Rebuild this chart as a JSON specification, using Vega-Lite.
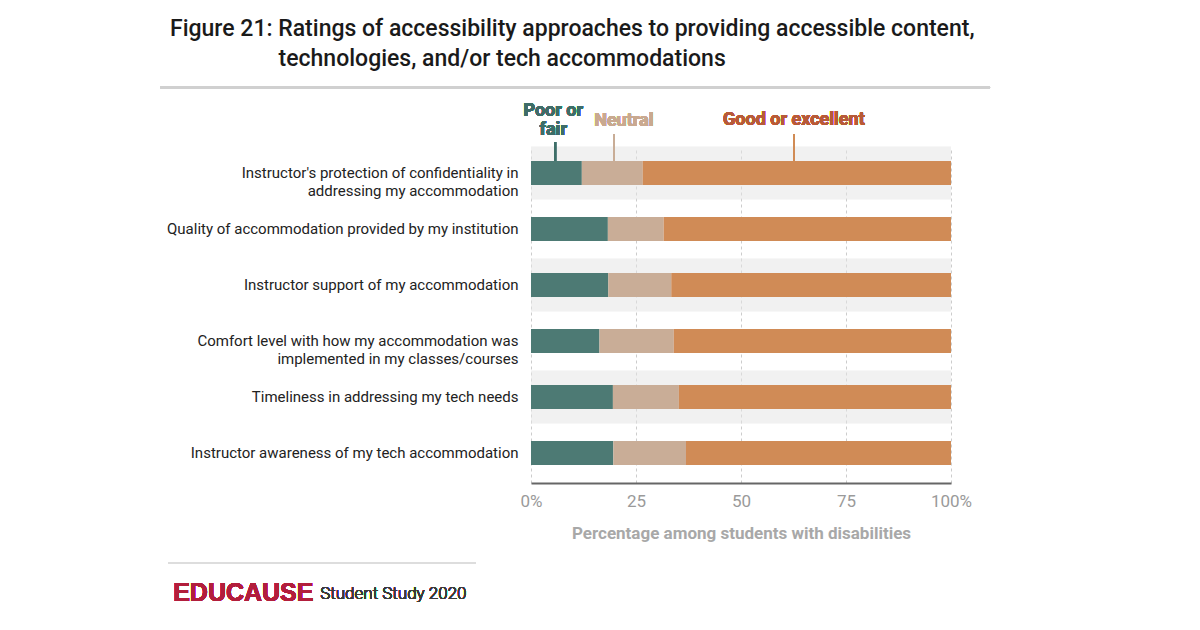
{
  "$schema": "https://vega.github.io/schema/vega-lite/v6.json",
  "width": 420,
  "height": 336,
  "autosize": {"type": "none"},
  "padding": {"left": 531, "top": 145, "right": 249, "bottom": 149},
  "background": "white",
  "config": {
    "view": {"stroke": null},
    "font": "Roboto",
    "axisX": {
      "domainColor": "#666666",
      "domainWidth": 2,
      "ticks": false,
      "labelColor": "#9a9a9a",
      "labelFontSize": 17,
      "labelPadding": 10,
      "grid": true,
      "gridColor": "#cccccc",
      "gridDash": [3, 3],
      "titleColor": "#a8a8a8",
      "titleFontSize": 17,
      "titleFontWeight": "bold",
      "titlePadding": 16,
      "offset": 2
    },
    "axisY": {
      "domain": false,
      "ticks": false,
      "grid": false,
      "labelPadding": 13,
      "labelFontSize": 15,
      "labelColor": "#222222",
      "labelLineHeight": 18,
      "labelLimit": 400,
      "title": null
    }
  },
  "title": {
    "text": [
      "Figure 21: Ratings of accessibility approaches to providing accessible content,",
      "\u200b\u00a0\u00a0\u00a0\u00a0\u00a0\u00a0\u00a0\u00a0\u00a0\u00a0\u00a0\u00a0\u00a0\u00a0\u00a0\u00a0\u00a0\u00a0\u00a0technologies, and/or tech accommodations"
    ],
    "anchor": "start",
    "frame": "group",
    "dx": -361,
    "font": "Roboto",
    "fontSize": 23,
    "fontWeight": 500,
    "color": "#1a1a1a",
    "lineHeight": 30,
    "offset": 16
  },
  "data": {
    "values": [
      {"item": "Instructor's protection of confidentiality in\naddressing my accommodation", "rating": "Poor or fair", "pct": 12.1},
      {"item": "Instructor's protection of confidentiality in\naddressing my accommodation", "rating": "Neutral", "pct": 14.5},
      {"item": "Instructor's protection of confidentiality in\naddressing my accommodation", "rating": "Good or excellent", "pct": 73.4},
      {"item": "Quality of accommodation provided by my institution", "rating": "Poor or fair", "pct": 18.3},
      {"item": "Quality of accommodation provided by my institution", "rating": "Neutral", "pct": 13.3},
      {"item": "Quality of accommodation provided by my institution", "rating": "Good or excellent", "pct": 68.4},
      {"item": "Instructor support of my accommodation", "rating": "Poor or fair", "pct": 18.4},
      {"item": "Instructor support of my accommodation", "rating": "Neutral", "pct": 15.0},
      {"item": "Instructor support of my accommodation", "rating": "Good or excellent", "pct": 66.6},
      {"item": "Comfort level with how my accommodation was\nimplemented in my classes/courses", "rating": "Poor or fair", "pct": 16.3},
      {"item": "Comfort level with how my accommodation was\nimplemented in my classes/courses", "rating": "Neutral", "pct": 17.7},
      {"item": "Comfort level with how my accommodation was\nimplemented in my classes/courses", "rating": "Good or excellent", "pct": 66.0},
      {"item": "Timeliness in addressing my tech needs", "rating": "Poor or fair", "pct": 19.5},
      {"item": "Timeliness in addressing my tech needs", "rating": "Neutral", "pct": 15.7},
      {"item": "Timeliness in addressing my tech needs", "rating": "Good or excellent", "pct": 64.8},
      {"item": "Instructor awareness of my tech accommodation", "rating": "Poor or fair", "pct": 19.6},
      {"item": "Instructor awareness of my tech accommodation", "rating": "Neutral", "pct": 17.3},
      {"item": "Instructor awareness of my tech accommodation", "rating": "Good or excellent", "pct": 63.1}
    ]
  },
  "layer": [
    {
      "transform": [
        {"filter": {"and": [
          {"field": "rating", "equal": "Poor or fair"},
          {"field": "item", "oneOf": [
            "Instructor's protection of confidentiality in\naddressing my accommodation",
            "Instructor support of my accommodation",
            "Timeliness in addressing my tech needs"
          ]}
        ]}}
      ],
      "mark": {"type": "bar", "size": 53, "color": "#e4e4e4", "opacity": 0.52},
      "encoding": {
        "x": {"datum": 0, "type": "quantitative"},
        "x2": {"datum": 100},
        "y": {"field": "item", "type": "nominal"}
      }
    },
    {
      "mark": {"type": "tick", "orient": "vertical", "size": 19, "thickness": 1.5, "color": "#3e6d68", "yOffset": -21.5},
      "encoding": {
        "x": {"datum": 5.8, "type": "quantitative"},
        "y": {"datum": "Instructor's protection of confidentiality in\naddressing my accommodation", "type": "nominal"}
      }
    },
    {
      "mark": {"type": "tick", "orient": "vertical", "size": 27, "thickness": 1.5, "color": "#c9ad97", "yOffset": -25.5},
      "encoding": {
        "x": {"datum": 19.7, "type": "quantitative"},
        "y": {"datum": "Instructor's protection of confidentiality in\naddressing my accommodation", "type": "nominal"}
      }
    },
    {
      "mark": {"type": "tick", "orient": "vertical", "size": 27, "thickness": 1.5, "color": "#d08b56", "yOffset": -25.5},
      "encoding": {
        "x": {"datum": 62.6, "type": "quantitative"},
        "y": {"datum": "Instructor's protection of confidentiality in\naddressing my accommodation", "type": "nominal"}
      }
    },
    {
      "mark": {"type": "bar", "size": 24},
      "encoding": {
        "y": {
          "field": "item",
          "type": "nominal",
          "scale": {
            "domain": [
              "Instructor's protection of confidentiality in\naddressing my accommodation",
              "Quality of accommodation provided by my institution",
              "Instructor support of my accommodation",
              "Comfort level with how my accommodation was\nimplemented in my classes/courses",
              "Timeliness in addressing my tech needs",
              "Instructor awareness of my tech accommodation"
            ],
            "paddingInner": 0,
            "paddingOuter": 0
          },
          "axis": {"labelExpr": "split(datum.label, '\\n')"}
        },
        "x": {
          "field": "pct",
          "type": "quantitative",
          "stack": "zero",
          "scale": {"domain": [0, 100], "nice": false},
          "axis": {
            "values": [0, 25, 50, 75, 100],
            "labelExpr": "datum.value == 0 ? '0%' : datum.value == 100 ? '100%' : datum.label",
            "labelFlush": false,
            "title": "Percentage among students with disabilities"
          }
        },
        "order": {"field": "rating", "sort": "descending"},
        "color": {
          "field": "rating",
          "type": "nominal",
          "scale": {
            "domain": ["Poor or fair", "Neutral", "Good or excellent"],
            "range": ["#4d7a74", "#c9ad97", "#d08b56"]
          },
          "legend": null
        }
      }
    },
    {
      "mark": {"type": "text", "fontWeight": "bold", "fontSize": 18, "color": "#3e6d68", "lineHeight": 19, "dy": -62, "align": "center", "baseline": "middle"},
      "encoding": {
        "x": {"datum": 5.3, "type": "quantitative"},
        "y": {"datum": "Instructor's protection of confidentiality in\naddressing my accommodation", "type": "nominal"},
        "text": {"value": ["Poor or", "fair"]}
      }
    },
    {
      "mark": {"type": "text", "fontWeight": "bold", "fontSize": 18, "color": "#c9a990", "dy": -52.5, "align": "center", "baseline": "middle"},
      "encoding": {
        "x": {"datum": 22.1, "type": "quantitative"},
        "y": {"datum": "Instructor's protection of confidentiality in\naddressing my accommodation", "type": "nominal"},
        "text": {"value": "Neutral"}
      }
    },
    {
      "mark": {"type": "text", "fontWeight": "bold", "fontSize": 18, "color": "#b85a38", "dy": -53, "align": "center", "baseline": "middle"},
      "encoding": {
        "x": {"datum": 62.6, "type": "quantitative"},
        "y": {"datum": "Instructor's protection of confidentiality in\naddressing my accommodation", "type": "nominal"},
        "text": {"value": "Good or excellent"}
      }
    },
    {
      "mark": {"type": "rule", "color": "#d0d0d0", "strokeWidth": 2, "yOffset": -85.5},
      "encoding": {
        "x": {"datum": -88.3, "type": "quantitative"},
        "x2": {"datum": 109.3},
        "y": {"datum": "Instructor's protection of confidentiality in\naddressing my accommodation", "type": "nominal"}
      }
    },
    {
      "mark": {"type": "rule", "color": "#dddddd", "strokeWidth": 1.5, "yOffset": 110},
      "encoding": {
        "x": {"datum": -86.4, "type": "quantitative"},
        "x2": {"datum": -13.1},
        "y": {"datum": "Instructor awareness of my tech accommodation", "type": "nominal"}
      }
    },
    {
      "mark": {"type": "text", "font": "Liberation Sans", "fontWeight": "bold", "fontSize": 25, "color": "#b21e3c", "align": "left", "baseline": "middle", "dy": 140},
      "encoding": {
        "x": {"datum": -85.2, "type": "quantitative"},
        "y": {"datum": "Instructor awareness of my tech accommodation", "type": "nominal"},
        "text": {"value": "EDUCAUSE"}
      }
    },
    {
      "mark": {"type": "text", "font": "Roboto", "fontSize": 17, "fontWeight": 300, "color": "#3a3a3a", "align": "left", "baseline": "middle", "dy": 141},
      "encoding": {
        "x": {"datum": -50.2, "type": "quantitative"},
        "y": {"datum": "Instructor awareness of my tech accommodation", "type": "nominal"},
        "text": {"value": "Student Study 2020"}
      }
    }
  ]
}
